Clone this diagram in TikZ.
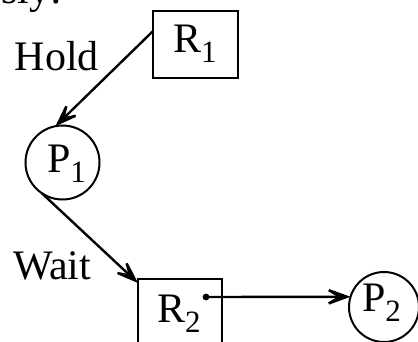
\documentclass[tikz,border=0pt]{standalone}
\usepackage{fontspec}
\setmainfont{Liberation Serif}
\usetikzlibrary{arrows.meta,calc}
\newcommand{\sbs}[1]{\raisebox{-10.5pt}{\fontsize{31}{31}\selectfont #1}}
\begin{document}
\begin{tikzpicture}[x=1pt,y=-1pt,
  every node/.style={inner sep=0pt,outer sep=0pt},
  lbl/.style={font=\fontsize{42}{42}\selectfont,anchor=base west},
  boxnode/.style={draw,line width=2pt,minimum width=#1},
  proc/.style={draw,circle,line width=2pt,minimum size=#1},
  conn/.style={line width=2.4pt,-{Stealth[length=33pt,width=24pt,inset=20pt]}}]
\useasboundingbox (0,0) rectangle (418,341);
\clip (0,0) rectangle (418,341);
% text fragment from above
\node[lbl,anchor=base east] (frag) at (62,3) {ssly:};
% nodes
\node[boxnode=85pt,minimum height=67pt] (R1) at (195.5,44.5) {};
\node[lbl] (R1t) at (173,52) {R\sbs{1}};
\node[proc=74pt] (P1) at (62.5,162.5) {};
\node[lbl] (P1t) at (47,172) {P\sbs{1}};
\node[boxnode=84pt,minimum height=101pt] (R2) at (180,329.5) {};
\node[lbl] (R2t) at (157,322) {R\sbs{2}};
\node[proc=70pt] (P2) at (384,307) {};
\node[lbl] (P2t) at (362,311) {P\sbs{2}};
\node[lbl] (hold) at (15,70) {Hold};
\node[lbl] (wait) at (13,279) {Wait};
% connectors
\coordinate (h0) at ($(R1.north west)!0.3!(R1.south west)$);
\draw[conn] (h0) -- (P1.101);
\draw[conn] (P1.236) -- ($(R2.north west)+(0,4)$);
\coordinate (dot) at (206,297);
\fill (dot) circle (3.4pt);
\draw[conn] (dot) -- (P2.163.4);
\end{tikzpicture}
\end{document}
